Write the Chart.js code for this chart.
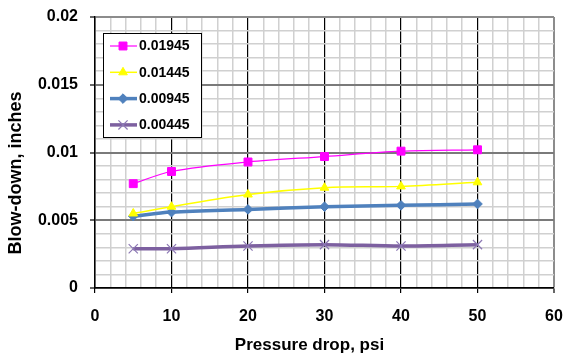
<!DOCTYPE html>
<html>
<head>
<meta charset="utf-8">
<script src="https://cdn.jsdelivr.net/npm/chart.js@4.4.1/dist/chart.umd.min.js"></script>
<style>
  html, body { margin: 0; padding: 0; background: #fff; }
  #wrap { position: relative; width: 563px; height: 354px; }
</style>
</head>
<body>
<div id="wrap"><canvas id="c"></canvas></div>
<script>
// ---- data ----
const pressureDrop = [5, 10, 20, 30, 40, 50];
const series01945 = [0.0077, 0.0086, 0.0093, 0.0097, 0.0101, 0.0102];
const series01445 = [0.0055, 0.0060, 0.0069, 0.0074, 0.0075, 0.0078];
const series00945 = [0.0053, 0.0056, 0.0058, 0.0060, 0.0061, 0.0062];
const series00445 = [0.0029, 0.0029, 0.0031, 0.0032, 0.0031, 0.0032];
const seriesNames = ['0.01945', '0.01445', '0.00945', '0.00445'];
const xTickLabels = [0, 10, 20, 30, 40, 50, 60];
const yTickLabels = [0, 0.005, 0.01, 0.015, 0.02];
const xTitle = 'Pressure drop, psi';
const yTitle = 'Blow-down, inches';

const FONT = '"Liberation Sans", Arial, sans-serif';

function pts(ys) { return pressureDrop.map((x, i) => ({ x: x, y: ys[i] })); }

const datasets = [
  { label: seriesNames[0], data: pts(series01945), borderColor: '#FF00FF', backgroundColor: '#FF00FF',
    borderWidth: 1.2, pointStyle: 'rect', pointRadius: 5.6, pointBorderWidth: 1, pointBorderColor: '#FF00FF' },
  { label: seriesNames[1], data: pts(series01445), borderColor: '#FFFF00', backgroundColor: '#FFFF00',
    borderWidth: 1.5, pointStyle: 'triangle', pointRadius: 5, pointBorderWidth: 1, pointBorderColor: '#FFFF00' },
  { label: seriesNames[2], data: pts(series00945), borderColor: '#4F81BD', backgroundColor: '#4F81BD',
    borderWidth: 3.5, pointStyle: 'rectRot', pointRadius: 4.8, pointBorderWidth: 1, pointBorderColor: '#4F81BD' },
  { label: seriesNames[3], data: pts(series00445), borderColor: '#7D60A0', backgroundColor: '#8C78B4',
    borderWidth: 3.5, pointStyle: 'crossRot', pointRadius: 6.5, pointBorderWidth: 1.2, pointBorderColor: '#8C78B4' }
];
datasets.forEach(d => { d.tension = 0.33; d.fill = false; d.pointHoverRadius = d.pointRadius; });

function isMajor(v, step) { return Math.abs(v / step - Math.round(v / step)) < 1e-6; }

const boxLegend = {
  id: 'boxLegend',
  afterDraw(chart) {
    const ctx = chart.ctx, a = chart.chartArea;
    const left = a.left + 8, top = a.top + 16, w = 98, h = 104;
    ctx.save();
    ctx.fillStyle = '#fff';
    ctx.fillRect(left, top, w, h);
    ctx.strokeStyle = '#000';
    ctx.lineWidth = 1;
    ctx.strokeRect(left + 0.5, top + 0.5, w, h);
    chart.data.datasets.forEach((ds, i) => {
      const cy = top + 13 + i * 26.3;
      ctx.strokeStyle = ds.borderColor;
      ctx.lineWidth = ds.borderWidth;
      ctx.beginPath();
      ctx.moveTo(left + 7, cy);
      ctx.lineTo(left + 34, cy);
      ctx.stroke();
      ctx.fillStyle = ds.backgroundColor;
      ctx.strokeStyle = ds.pointBorderColor;
      ctx.lineWidth = ds.pointBorderWidth;
      Chart.helpers.drawPoint(ctx, { pointStyle: ds.pointStyle, radius: ds.pointRadius, rotation: 0, borderWidth: ds.pointBorderWidth }, left + 20, cy);
      ctx.fillStyle = '#000';
      ctx.font = 'bold 14px ' + FONT;
      ctx.textAlign = 'left';
      ctx.textBaseline = 'middle';
      ctx.fillText(ds.label, left + 36, cy + 0.5);
    });
    ctx.restore();
  }
};

const axisTitles = {
  id: 'axisTitles',
  afterDraw(chart) {
    const ctx = chart.ctx;
    ctx.save();
    ctx.fillStyle = '#000';
    ctx.font = 'bold 17px ' + FONT;
    ctx.textAlign = 'center';
    ctx.textBaseline = 'alphabetic';
    ctx.fillText(xTitle, 309.5, 350);
    ctx.translate(21, 173);
    ctx.rotate(-Math.PI / 2);
    ctx.font = 'bold 18px ' + FONT;
    ctx.fillText(yTitle, 0, 0);
    ctx.restore();
  }
};

new Chart(document.getElementById('c'), {
  type: 'line',
  data: { datasets: datasets },
  plugins: [boxLegend, axisTitles],
  options: {
    responsive: true,
    maintainAspectRatio: false,
    animation: false,
    events: [],
    layout: { padding: { left: 0, top: 17, right: 9, bottom: 0 } },
    plugins: { legend: { display: false }, tooltip: { enabled: false } },
    scales: {
      x: {
        type: 'linear',
        min: xTickLabels[0], max: xTickLabels[xTickLabels.length - 1],
        afterFit(s) { s.height = 66; s.paddingLeft = 0; s.paddingRight = 0; },
        border: { color: '#000', width: 1.5 },
        grid: {
          color: c => { const v = c.tick.value; if (isMajor(v, 10)) return v === 60 ? '#8c8c8c' : '#000'; return '#d0d0d0'; },
          lineWidth: c => isMajor(c.tick.value, 10) ? (c.tick.value === 60 ? 2 : 1.2) : 1.5,
          tickColor: c => isMajor(c.tick.value, 10) ? '#000' : 'rgba(0,0,0,0)',
          tickLength: 5,
          tickWidth: 1.2
        },
        ticks: {
          stepSize: 2, autoSkip: false, maxRotation: 0, padding: 14,
          color: '#000', font: { family: FONT, size: 16, weight: 'bold' },
          callback: v => xTickLabels.indexOf(v) >= 0 ? String(v) : ''
        }
      },
      y: {
        type: 'linear',
        min: yTickLabels[0], max: yTickLabels[yTickLabels.length - 1],
        afterFit(s) { s.width = 95; s.paddingTop = 0; s.paddingBottom = 0; },
        border: { color: '#000', width: 1.5 },
        grid: {
          color: c => { const v = c.tick.value; if (isMajor(v, 0.005)) return Math.abs(v - 0.02) < 1e-9 ? '#8c8c8c' : '#7a7a7a'; return '#d0d0d0'; },
          lineWidth: c => isMajor(c.tick.value, 0.005) ? 2 : 1.5,
          tickColor: c => isMajor(c.tick.value, 0.005) ? '#000' : 'rgba(0,0,0,0)',
          tickLength: 5,
          tickWidth: 1.2
        },
        ticks: {
          stepSize: 0.001, autoSkip: false, padding: 12,
          color: '#000', font: { family: FONT, size: 16, weight: 'bold' },
          callback: v => { const r = Math.round(v * 1000) / 1000; return yTickLabels.some(t => Math.abs(t - r) < 1e-9) ? String(r) : ''; }
        }
      }
    }
  }
});
</script>
</body>
</html>
